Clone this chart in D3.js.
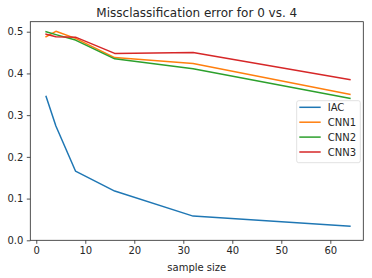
<!DOCTYPE html>
<html>
<head>
<meta charset="utf-8">
<script src="https://d3js.org/d3.v7.min.js"></script>
<style>
body { margin: 0; background: #fff; }
text { font-family: "DejaVu Sans", sans-serif; fill: #262626; }
</style>
</head>
<body>
<svg id="chart" width="372" height="278"></svg>
<script>
// sample sizes and error per model
const sampleSizes = [2, 4, 8, 16, 32, 64];
const iac  = [0.345, 0.274, 0.166, 0.118, 0.058, 0.034];
const cnn1 = [0.488, 0.501, 0.484, 0.438, 0.424, 0.350];
const cnn2 = [0.500, 0.493, 0.480, 0.435, 0.411, 0.340];
const cnn3 = [0.494, 0.488, 0.487, 0.448, 0.450, 0.385];
const seriesNames = ['IAC', 'CNN1', 'CNN2', 'CNN3'];
const xTicks = [0, 10, 20, 30, 40, 50, 60];
const yTicks = [0.0, 0.1, 0.2, 0.3, 0.4, 0.5];

const colors = ['#1f77b4', '#ff7f0e', '#2ca02c', '#d62728'];
const series = [iac, cnn1, cnn2, cnn3];

let margin = {top: 21.7, right: 8.7, bottom: 37.7, left: 30.3};
let width = 372 - margin.left - margin.right;
let height = 278 - margin.top - margin.bottom;

let svg = d3.select('#chart');

const x = d3.scaleLinear().domain([-1.22, 66.73]).range([margin.left, margin.left + width]);
const y = d3.scaleLinear().domain([0, 0.524]).range([margin.top + height, margin.top]);

// axes
svg.append('g')
	.attr('transform', 'translate(0,' + (margin.top + height) + ')')
	.call(d3.axisBottom(x).tickValues(xTicks).tickSize(3.5).tickPadding(3.5).tickFormat(d3.format('d')))
	.call(function(g){
		g.select('.domain').remove();
		g.selectAll('line').attr('stroke', '#262626').attr('stroke-width', 0.8);
		g.selectAll('text').style('font-size', '10px').attr('fill', '#262626');
	});

svg.append('g')
	.attr('transform', 'translate(' + margin.left + ',0)')
	.call(d3.axisLeft(y).tickValues(yTicks).tickSize(3.5).tickPadding(3.5).tickFormat(d3.format('.1f')))
	.call(function(g){
		g.select('.domain').remove();
		g.selectAll('line').attr('stroke', '#262626').attr('stroke-width', 0.8);
		g.selectAll('text').style('font-size', '10px').attr('fill', '#262626');
	});

// lines
const line = d3.line()
	.x(function(d, i){ return x(sampleSizes[i]) })
	.y(function(d){ return y(d) });

svg.append('g')
	.selectAll('path')
	.data(series)
	.enter().append('path')
		.attr('d', line)
		.style('fill', 'none')
		.style('stroke', function(d, i){ return colors[i] })
		.style('stroke-width', 1.5)
		.style('stroke-linejoin', 'round')
		.style('stroke-linecap', 'square');

// frame
svg.append('rect')
	.attr('x', margin.left)
	.attr('y', margin.top)
	.attr('width', width)
	.attr('height', height)
	.style('fill', 'none')
	.style('stroke', '#262626')
	.style('stroke-width', 0.8);

// title and label
svg.append('text')
	.attr('x', margin.left + width / 2)
	.attr('y', 17)
	.attr('text-anchor', 'middle')
	.style('font-size', '12px')
	.text('Missclassification error for 0 vs. 4');

svg.append('text')
	.attr('x', margin.left + width / 2)
	.attr('y', 270.5)
	.attr('text-anchor', 'middle')
	.style('font-size', '10px')
	.text('sample size');

// legend
let legend = svg.append('g').attr('transform', 'translate(296.7,100.7)');
legend.append('rect')
	.attr('width', 63.6)
	.attr('height', 62)
	.attr('rx', 2)
	.style('fill', 'rgba(255,255,255,0.8)')
	.style('stroke', '#d9d9d9')
	.style('stroke-width', 0.8);

let item = legend.selectAll('g.item')
	.data(seriesNames)
	.enter().append('g')
		.attr('class', 'item')
		.attr('transform', function(d, i){ return 'translate(0,' + (6.6 + i * 14.9) + ')' });

item.append('line')
	.attr('x1', 2.6).attr('x2', 24)
	.style('stroke', function(d, i){ return colors[i] })
	.style('stroke-width', 1.5);

item.append('text')
	.attr('x', 31)
	.attr('dy', '0.35em')
	.style('font-size', '10px')
	.text(function(d){ return d });
</script>
</body>
</html>
